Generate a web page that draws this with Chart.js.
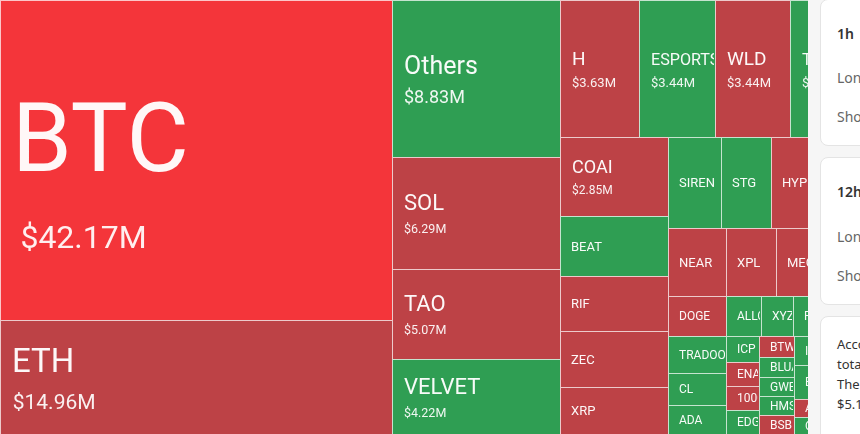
<!DOCTYPE html>
<html>
<head>
<meta charset="utf-8">
<script src="https://cdn.jsdelivr.net/npm/chart.js@4.4.1/dist/chart.umd.min.js"></script>
<style>
  html, body { margin: 0; padding: 0; background: #ffffff; }
  #wrap { position: relative; width: 860px; height: 434px; overflow: hidden; }
  #c { position: absolute; left: 0; top: 0; }
  #panel { position: absolute; left: 808px; top: 0; width: 52px; height: 434px; background: #f6f6f6; overflow: hidden;
           font-family: "Noto Sans", "Open Sans", sans-serif; }
  .card { position: absolute; left: 12px; width: 300px; background: #ffffff; border: 1px solid #e4e4e4; border-radius: 8px; }
  .card div { position: absolute; left: 16px; white-space: nowrap; line-height: 20px; }
  .title { font-size: 14px; font-weight: 600; color: #333; }
  .row { font-size: 14px; color: #666; }
  .txt { font-size: 13px; color: #333; }
</style>
</head>
<body>
<div id="wrap">
  <canvas id="c" width="860" height="434"></canvas>
  <div id="panel">
    <div class="card" style="top:-1px;height:145px;">
      <div class="title" style="top:24px;">1h</div>
      <div class="row" style="top:68px;">Long</div>
      <div class="row" style="top:107px;">Short</div>
    </div>
    <div class="card" style="top:157px;height:146px;">
      <div class="title" style="top:24px;">12h</div>
      <div class="row" style="top:69px;">Long</div>
      <div class="row" style="top:108px;">Short</div>
    </div>
    <div class="card" style="top:316px;height:140px;">
      <div class="txt" style="top:17px;">According to the data, in the past 24 hours,</div>
      <div class="txt" style="top:37px;">total liquidated traders across the market.</div>
      <div class="txt" style="top:57px;">The largest single liquidation order was</div>
      <div class="txt" style="top:77px;">$5.1M</div>
    </div>
  </div>
</div>
<script>
// ---- data (liquidations, $M) ----
const symbols = ['BTC','ETH','Others','SOL','TAO','VELVET','H','ESPORTS','WLD','TRUMP',
  'COAI','BEAT','RIF','ZEC','XRP','SIREN','STG','HYPE','PUMP','NEAR','XPL','MEGA','SUI',
  'DOGE','TRADOOR','CL','ADA','ALLO','XYZ','FARTCOIN','LINK','AVAX',
  'ICP','ENA','1000PEPE','EDGEN','BTW','BLUAI','GWEI','HMSTR','BSB',
  'IP','ZORA','ASTER','BNB','LTC','XLM','PENGU','AAVE','ONDO','WIF','XMR','APT'];
const liquidations = [42.17,14.96,8.83,6.29,5.07,4.22,3.63,3.44,3.44,3.22,
  2.85,2.16,2.01,2.01,1.69,1.62,1.53,1.37,1.35,1.33,1.14,1.00,0.92,
  0.79,0.73,0.63,0.58,0.47,0.44,0.43,0.25,0.24,
  0.28,0.27,0.265,0.265,0.24,0.23,0.23,0.22,0.22,
  0.21,0.21,0.20,0.20,0.19,0.19,0.18,0.17,0.16,0.15,0.15,0.14];
// dominant side: 'long' liquidations shown red, 'short' shown green
const dominant = ['long','long','short','long','long','short','long','short','long','short',
  'long','short','long','long','long','short','short','long','short','long','long','long','long',
  'long','short','short','short','short','short','short','long','short',
  'short','long','long','short','long','short','short','short','long',
  'short','short','long','short','long','short','short','long','short','long','short','long'];
const highlighted = 'BTC';

const COLORS = { long: '#bd4246', short: '#2f9e53', highlight: '#f4353a' };
const FONT = 'Roboto, "Noto Sans", sans-serif';

// d3-style squarified layout (golden ratio)
function squarify(values, x0, y0, x1, y1, ratio) {
  const rects = new Array(values.length);
  let i0 = 0, i1 = 0; const n = values.length;
  let value = values.reduce((a, b) => a + b, 0);
  while (i0 < n) {
    const dx = x1 - x0, dy = y1 - y0;
    let sumValue = values[i1++], minValue = sumValue, maxValue = sumValue;
    const alpha = Math.max(dy / dx, dx / dy) / (value * ratio);
    let beta = sumValue * sumValue * alpha;
    let minRatio = Math.max(maxValue / beta, beta / minValue);
    for (; i1 < n; ++i1) {
      const nv = values[i1];
      sumValue += nv;
      if (nv < minValue) minValue = nv;
      if (nv > maxValue) maxValue = nv;
      beta = sumValue * sumValue * alpha;
      const newRatio = Math.max(maxValue / beta, beta / minValue);
      if (newRatio > minRatio) { sumValue -= nv; break; }
      minRatio = newRatio;
    }
    if (dx < dy) {
      const ny = i1 >= n ? y1 : y0 + dy * sumValue / value;
      let x = x0;
      for (let i = i0; i < i1; i++) { const w = dx * values[i] / sumValue; rects[i] = [x, y0, x + w, ny]; x += w; }
      y0 = ny;
    } else {
      const nx = i1 >= n ? x1 : x0 + dx * sumValue / value;
      let y = y0;
      for (let i = i0; i < i1; i++) { const h = dy * values[i] / sumValue; rects[i] = [x0, y, nx, y + h]; y += h; }
      x0 = nx;
    }
    value -= sumValue; i0 = i1;
  }
  return rects;
}

function labelStyle(v) {
  if (v >= 30) return { L: 96, V: 32 };
  if (v >= 10) return { L: 33, V: 21 };
  if (v >= 8) return { L: 25, V: 18 };
  if (v >= 4) return { L: 22, V: 12.5 };
  if (v >= 3) return { L: 19, V: 13 };
  if (v >= 2.5) return { L: 18, V: 12 };
  return { L: v >= 1 ? 13 : 12, V: 0 };
}

const treemapPlugin = {
  id: 'treemapCells',
  afterDatasetsDraw(chart) {
    const ctx = chart.ctx, xs = chart.scales.x, ys = chart.scales.y, a = chart.chartArea;
    const W = a.right - a.left, H = a.bottom - a.top;
    const rects = squarify(liquidations, 0, 0, W, H, (1 + Math.sqrt(5)) / 2);
    ctx.save();
    rects.forEach((r, i) => {
      const X0 = Math.round(xs.getPixelForValue(r[0] / W * 100));
      const X1 = Math.round(xs.getPixelForValue(r[2] / W * 100));
      const Y0 = Math.round(ys.getPixelForValue(r[1] / H * 100));
      const Y1 = Math.round(ys.getPixelForValue(r[3] / H * 100));
      const w = X1 - X0, h = Y1 - Y0;
      const col = symbols[i] === highlighted ? COLORS.highlight : COLORS[dominant[i]];
      ctx.fillStyle = col;
      ctx.fillRect(X0, Y0, w, h);
      ctx.strokeStyle = 'rgba(255,255,255,0.72)';
      ctx.lineWidth = 1;
      ctx.strokeRect(X0 + 0.5, Y0 + 0.5, w, h);
      // labels
      ctx.save();
      ctx.beginPath(); ctx.rect(X0 + 1, Y0 + 1, w - 2, h - 2); ctx.clip();
      const st = labelStyle(liquidations[i]);
      let L = st.L;
      ctx.font = `400 ${L}px ${FONT}`;
      const tw = ctx.measureText(symbols[i]).width;
      if (L >= 16 && tw > w - 24) { L = Math.max(L * 0.85, L * (w - 24) / tw); ctx.font = `400 ${L}px ${FONT}`; }
      ctx.fillStyle = 'rgba(255,255,255,0.96)';
      ctx.textBaseline = 'alphabetic';
      ctx.textAlign = 'left';
      const cy = (Y0 + Y1) / 2;
      if (st.V > 0) {
        const V = st.V, gap = 0.47 * st.L;
        const lb = cy + 0.0016 * st.L * st.L + 0.72 * st.L - (0.72 * st.L + V + gap) / 2;
        ctx.fillText(symbols[i], X0 + 12, lb);
        ctx.font = `400 ${V}px ${FONT}`;
        ctx.fillStyle = 'rgba(255,255,255,0.92)';
        ctx.fillText('$' + liquidations[i].toFixed(2) + 'M', X0 + 12 + Math.max(0, (V - 20) * 0.7), lb + V + gap);
      } else {
        ctx.fillText(symbols[i], X0 + 11, cy + 0.36 * L);
      }
      ctx.restore();
    });
    ctx.restore();
  }
};

new Chart(document.getElementById('c'), {
  type: 'scatter',
  data: { datasets: [{ data: [] }] },
  options: {
    responsive: false,
    animation: false,
    layout: { padding: 0 },
    plugins: { legend: { display: false }, tooltip: { enabled: false } },
    scales: {
      x: { type: 'linear', min: 0, max: 100, display: false },
      y: { type: 'linear', min: 0, max: 100, reverse: true, display: false }
    }
  },
  plugins: [treemapPlugin]
});
</script>
</body>
</html>
